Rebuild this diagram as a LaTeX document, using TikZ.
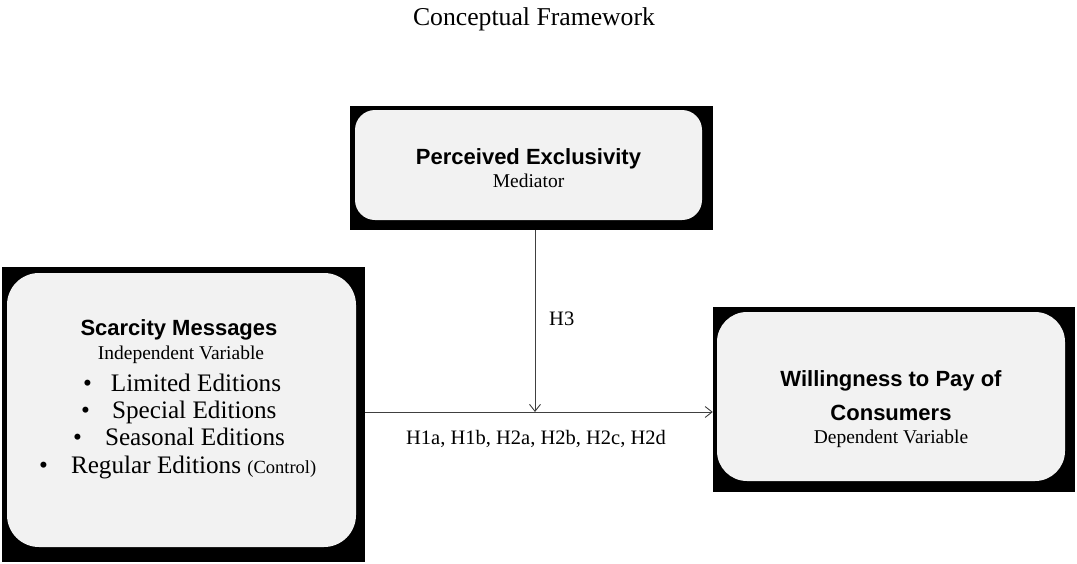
\documentclass[tikz,border=0pt]{standalone}
\usepackage{fontspec}
\setmainfont{Liberation Serif}
\newfontfamily\hdfont{Liberation Sans}
\usetikzlibrary{arrows.meta}
\definecolor{boxgray}{HTML}{F2F2F2}
\definecolor{linegray}{HTML}{404040}
\tikzset{
  x=1pt,y=-1pt,
  shadowbox/.style={fill=black,draw=none,inner sep=0pt,rectangle},
  innerbox/.style={fill=boxgray,draw=none,inner sep=0pt,rectangle,rounded corners=#1},
  innerbox/.default=22pt,
  headtxt/.style={font=\hdfont\bfseries\fontsize{22}{26}\selectfont,inner sep=0pt,anchor=base},
  subtxt/.style={font=\fontsize{19.5}{23}\selectfont,inner sep=0pt,anchor=base},
  itemtxt/.style={font=\fontsize{25.2}{29}\selectfont,inner sep=0pt,anchor=base west},
  labtxt/.style={font=\fontsize{20.5}{24}\selectfont,inner sep=0pt,anchor=base},
  conn/.style={draw=linegray,line width=0.9pt,-{Straight Barb[length=7pt,width=11pt,line width=0.9pt]}},
}
\begin{document}
\begin{tikzpicture}
\useasboundingbox (0,0) rectangle (1077,563);
% title
\node[font=\fontsize{25.7}{30}\selectfont,inner sep=0pt,anchor=base] (title) at (534,25) {Conceptual Framework};
% mediator box
\node[shadowbox,minimum width=363pt,minimum height=124pt] (pe) at (531.5,168) {};
\node[innerbox=20pt,minimum width=347pt,minimum height=110pt] (pei) at (528.5,165) {};
\node[headtxt] (pet) at (528.5,164) {Perceived Exclusivity};
\node[subtxt] (pes) at (528.5,187) {Mediator};
% independent box
\node[shadowbox,minimum width=363pt,minimum height=295pt] (sm) at (183.5,414.5) {};
\node[innerbox=32pt,minimum width=349pt,minimum height=274pt] (smi) at (181.5,410) {};
\node[headtxt] (smt) at (179,335) {Scarcity Messages};
\node[subtxt] (sms) at (181,359) {Independent Variable};
\node[itemtxt] (i1) at (83,391) {\textbullet\hspace{19pt}Limited Editions};
\node[itemtxt] (i2) at (81,418) {\textbullet\hspace{22pt}Special Editions};
\node[itemtxt] (i3) at (73,445) {\textbullet\hspace{23pt}Seasonal Editions};
\node[itemtxt] (i4) at (39,473) {\textbullet\hspace{23pt}Regular Editions {\fontsize{18.5}{21}\selectfont(Control)}};
% dependent box
\node[shadowbox,minimum width=362pt,minimum height=185pt] (wtp) at (894,399.5) {};
\node[innerbox=30pt,minimum width=348pt,minimum height=169pt] (wtpi) at (891,396.5) {};
\node[headtxt] (wt1) at (891,386) {Willingness to Pay of};
\node[headtxt] (wt2) at (891,420) {Consumers};
\node[subtxt] (wts) at (891,443) {Dependent Variable};
% connectors
\coordinate (mid) at (535,412);
\draw[conn] (sm.east |- mid) -- (wtp.west |- mid);
\draw[conn] (pe.south -| mid) -- (mid);
\node[labtxt,anchor=base west] (h3) at (549,325) {H3};
\node[labtxt] (h1) at (536,444) {H1a, H1b, H2a, H2b, H2c, H2d};
\end{tikzpicture}
\end{document}
